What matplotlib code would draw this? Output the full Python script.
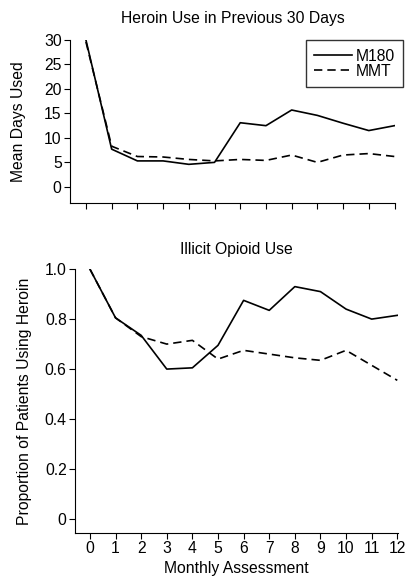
import matplotlib
matplotlib.use('Agg')
import matplotlib.pyplot as plt

plt.rcParams['font.family'] = ['Liberation Sans', 'DejaVu Sans']

months = list(range(13))

# Heroin use in previous 30 days (mean days used)
days_m180 = [30.0, 7.7, 5.3, 5.3, 4.6, 5.0, 13.1, 12.5, 15.7, 14.6, 13.0, 11.5, 12.5]
days_mmt = [29.6, 8.3, 6.2, 6.1, 5.6, 5.3, 5.6, 5.4, 6.5, 5.0, 6.5, 6.8, 6.2]

# Illicit opioid use (proportion using heroin)
prop_m180 = [1.0, 0.805, 0.735, 0.60, 0.605, 0.695, 0.875, 0.835, 0.93, 0.91, 0.84, 0.80, 0.815]
prop_mmt = [1.0, 0.805, 0.73, 0.70, 0.715, 0.64, 0.675, 0.66, 0.645, 0.635, 0.675, 0.615, 0.555]

fs = 11.3
fig = plt.figure(figsize=(4.08, 5.8), dpi=100)

dash = (0, (5, 3))
lw = 1.2

# top panel
ax1 = fig.add_axes([0.1716, 0.65, 0.7966, 0.281])
ax1.plot(months, days_m180, color='black', lw=lw, label='M180')
ax1.plot(months, days_mmt, color='black', lw=lw, ls=dash, label='MMT')
ax1.set_xlim(-0.62, 12.02)
ax1.set_ylim(-3.3, 30)
ax1.set_yticks([0, 5, 10, 15, 20, 25, 30])
ax1.set_xticks(months)
ax1.set_xticklabels([])
ax1.set_ylabel('Mean Days Used', fontsize=fs, labelpad=13)
ax1.set_title('Heroin Use in Previous 30 Days', fontsize=fs, pad=12)
leg = ax1.legend(loc='upper right', bbox_to_anchor=(1.025, 1.0), fontsize=fs,
                 frameon=True, fancybox=False, handlelength=2.4, borderpad=0.55,
                 labelspacing=0.0, handletextpad=0.2, borderaxespad=0.0)
leg.get_frame().set_edgecolor('black')
leg.get_frame().set_linewidth(1.0)

# bottom panel
ax2 = fig.add_axes([0.184, 0.081, 0.791, 0.455])
ax2.plot(months, prop_m180, color='black', lw=lw)
ax2.plot(months, prop_mmt, color='black', lw=lw, ls=dash)
ax2.set_xlim(-0.58, 12.02)
ax2.set_ylim(-0.056, 1.0)
ax2.set_yticks([0, 0.2, 0.4, 0.6, 0.8, 1.0])
ax2.set_yticklabels(['0', '0.2', '0.4', '0.6', '0.8', '1.0'])
ax2.set_xticks(months)
ax2.set_xlabel('Monthly Assessment', fontsize=fs, labelpad=3)
ax2.set_ylabel('Proportion of Patients Using Heroin', fontsize=fs, labelpad=9)
ax2.set_title('Illicit Opioid Use', fontsize=fs, pad=11)

for ax in (ax1, ax2):
    ax.spines['top'].set_visible(False)
    ax.spines['right'].set_visible(False)
    ax.tick_params(direction='out', length=4, width=0.8, labelsize=fs, pad=2)

fig.savefig('out.png', dpi=100)
